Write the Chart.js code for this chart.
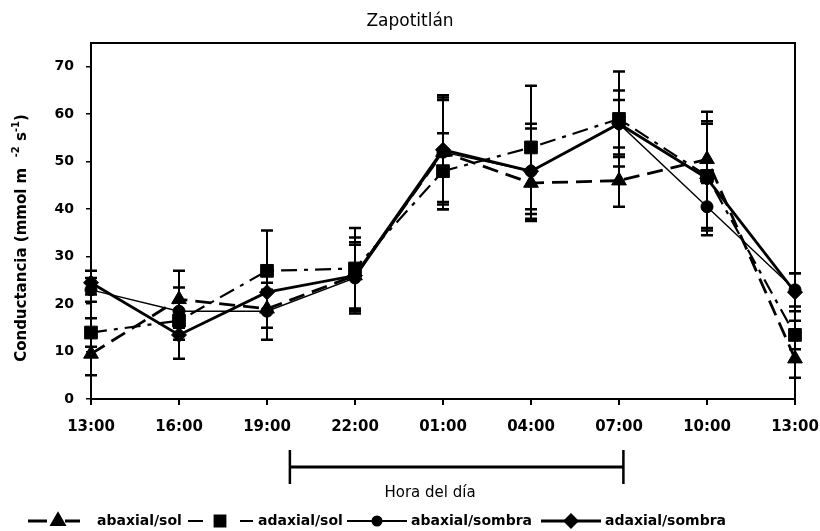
<!DOCTYPE html>
<html><head><meta charset="utf-8">
<script src="https://cdn.jsdelivr.net/npm/chart.js@4/dist/chart.umd.min.js"></script>
<style>html,body{margin:0;padding:0;background:#fff}#wrap{width:820px;height:531px}</style>
</head><body><div id="wrap"><canvas id="c" width="820" height="531"></canvas></div>
<script>
const hours = ['13:00','16:00','19:00','22:00','01:00','04:00','07:00','10:00','13:00'];
const seriesNames = ['abaxial/sol','adaxial/sol','abaxial/sombra','adaxial/sombra'];
const abaxialSol      = [9.5, 21, 19, 26, 52, 45.5, 46, 50.5, 8.5];
const abaxialSolErr   = [4.5, 6, 4, 7, 12, 8, 5.5, 10, 4];
const adaxialSol      = [14, 16.5, 27, 27.5, 48, 53, 59, 47, 13.5];
const adaxialSolErr   = [3, 4, 8.5, 8.5, 8, 13, 10, 11, 3];
const abaxialSombra   = [23, 18.5, 18.5, 25.5, 52, 48, 58, 40.5, 23];
const abaxialSombraErr= [2.5, 5, 6, 7, 11, 10, 7, 5, 3.5];
const adaxialSombra   = [24.5, 13.5, 22.5, 26, 52.5, 48, 58, 46.5, 22.5];
const adaxialSombraErr= [2.5, 5, 4, 8, 11, 9, 5, 12, 4];
const yTicks = [0,10,20,30,40,50,60,70];
const nightSpan = [2.26, 6.05]; // category-index positions of the bracket ends
const chartTitle = 'Zapotitlán';
const xTitle = 'Hora del día';

const SANS = "'DejaVu Sans', 'Liberation Sans', Arial, sans-serif";
Chart.defaults.font.family = SANS;
Chart.defaults.color = '#000';

const styles = [
  {pointStyle:'triangle', radius:8.5, dash:[16,8], width:2.8},
  {pointStyle:'rect', radius:9, dash:[16,7,4,7], width:2.2},
  {pointStyle:'circle', radius:6, dash:[], width:1.4},
  {pointStyle:'rectRot', radius:7.5, dash:[], width:2.8}
];
const values = [abaxialSol, adaxialSol, abaxialSombra, adaxialSombra];
const errors = [abaxialSolErr, adaxialSolErr, abaxialSombraErr, adaxialSombraErr];

const datasets = values.map((v,i)=>({
  label: seriesNames[i], data: v, errors: errors[i],
  borderColor:'#000', backgroundColor:'#000', borderWidth: styles[i].width,
  borderDash: styles[i].dash, pointStyle: styles[i].pointStyle,
  pointRadius: styles[i].radius, pointBackgroundColor:'#000', pointBorderColor:'#000',
  pointBorderWidth:1, tension:0, clip:false, fill:false
}));

const errorBars = {
  id:'errorBars',
  afterDatasetsDraw(chart){
    const ctx = chart.ctx, ys = chart.scales.y;
    ctx.save(); ctx.strokeStyle='#000';
    chart.data.datasets.forEach((ds,di)=>{
      const meta = chart.getDatasetMeta(di);
      meta.data.forEach((pt,i)=>{
        const v = ds.data[i], e = ds.errors[i];
        const yt = ys.getPixelForValue(v+e), yb = ys.getPixelForValue(v-e);
        ctx.lineWidth = 2;
        ctx.beginPath(); ctx.moveTo(pt.x, yt); ctx.lineTo(pt.x, yb); ctx.stroke();
        ctx.lineWidth = 2.5;
        ctx.beginPath();
        ctx.moveTo(pt.x-6, yt); ctx.lineTo(pt.x+6, yt);
        ctx.moveTo(pt.x-6, yb); ctx.lineTo(pt.x+6, yb);
        ctx.stroke();
      });
    });
    ctx.restore();
  }
};

const decor = {
  id:'decor',
  afterDraw(chart){
    const {ctx, chartArea:a} = chart;
    ctx.save(); ctx.strokeStyle='#000'; ctx.fillStyle='#000'; ctx.lineWidth=2;
    ctx.strokeRect(a.left, a.top, a.right-a.left, a.bottom-a.top);
    // title
    ctx.font = "17px " + SANS; ctx.textAlign='center'; ctx.textBaseline='middle';
    ctx.fillText(chartTitle, 410, 22);
    // y-axis title with superscripts
    ctx.save();
    ctx.translate(22, 238); ctx.rotate(-Math.PI/2);
    const big = "bold 15px " + SANS, small = "bold 10px " + SANS;
    const parts = [[ 'Conductancia (mmol m  ', big, 0 ], ['-2', small, -6], [' s', big, 0], ['-1', small, -6], [')', big, 0]];
    let total = 0;
    parts.forEach(p=>{ ctx.font = p[1]; p.w = ctx.measureText(p[0]).width; total += p.w; });
    let x = -total/2; ctx.textAlign='left';
    parts.forEach(p=>{ ctx.font = p[1]; ctx.fillText(p[0], x, p[2]); x += p.w; });
    ctx.restore();
    // night bracket
    const xs = chart.scales.x;
    const x1 = xs.getPixelForValue(nightSpan[0]), x2 = xs.getPixelForValue(nightSpan[1]);
    ctx.lineWidth = 3;
    ctx.beginPath(); ctx.moveTo(x1, 467); ctx.lineTo(x2, 467); ctx.stroke();
    ctx.lineWidth = 2.5;
    ctx.beginPath(); ctx.moveTo(x1, 450); ctx.lineTo(x1, 484); ctx.moveTo(x2, 450); ctx.lineTo(x2, 484); ctx.stroke();
    ctx.font = "15px " + SANS; ctx.textAlign='center'; ctx.textBaseline='middle';
    ctx.fillText(xTitle, 430, 493);
    // legend
    const items = [
      {segs:[[28,47],[65,80]], m:58, t:97},
      {segs:[[188,203],[240,253]], m:220, t:258},
      {segs:[[347,407]], m:377, t:411},
      {segs:[[541,601]], m:571, t:605}
    ];
    const ly = 521;
    ctx.font = "bold 14px " + SANS;
    ctx.textAlign='left';
    items.forEach((it,i)=>{
      ctx.lineWidth = Math.max(2, styles[i].width);
      ctx.beginPath();
      it.segs.forEach(s=>{ ctx.moveTo(s[0], ly); ctx.lineTo(s[1], ly); });
      ctx.stroke();
      Chart.helpers.drawPoint(ctx, {pointStyle:styles[i].pointStyle, radius:styles[i].radius-1.5, rotation:0, borderWidth:1}, it.m, ly);
      ctx.fillText(seriesNames[i], it.t, ly);
    });
    ctx.restore();
  }
};

new Chart(document.getElementById('c'), {
  type:'line',
  data:{labels:hours, datasets},
  options:{
    responsive:false, animation:false,
    layout:{padding:{left:0, right:25, top:43, bottom:0}},
    plugins:{
      legend:{display:false},
      tooltip:{enabled:false},
      title:{display:false}
    },
    scales:{
      x:{
        type:'category', offset:false,
        grid:{display:true, drawOnChartArea:false, drawTicks:true, tickLength:6, color:'#000', lineWidth:2},
        border:{display:true, color:'#000', width:2},
        ticks:{font:{size:15, weight:'bold'}, color:'#000', padding:13, maxRotation:0, autoSkip:false},
        afterFit(s){ s.height = 132; s.paddingLeft = 0; s.paddingRight = 0; }
      },
      y:{
        min:0, max:75,
        grid:{display:true, drawOnChartArea:false, drawTicks:true, tickLength:5, color:'#000', lineWidth:1.5},
        border:{display:true, color:'#000', width:2},
        ticks:{stepSize:10, includeBounds:false, font:{size:14, weight:'bold'}, color:'#000', padding:12},
        afterBuildTicks(s){ s.ticks = yTicks.map(v=>({value:v})); },
        title:{display:false},
        afterFit(s){ s.width = 91; }
      }
    }
  },
  plugins:[errorBars, decor]
});
</script></body></html>
